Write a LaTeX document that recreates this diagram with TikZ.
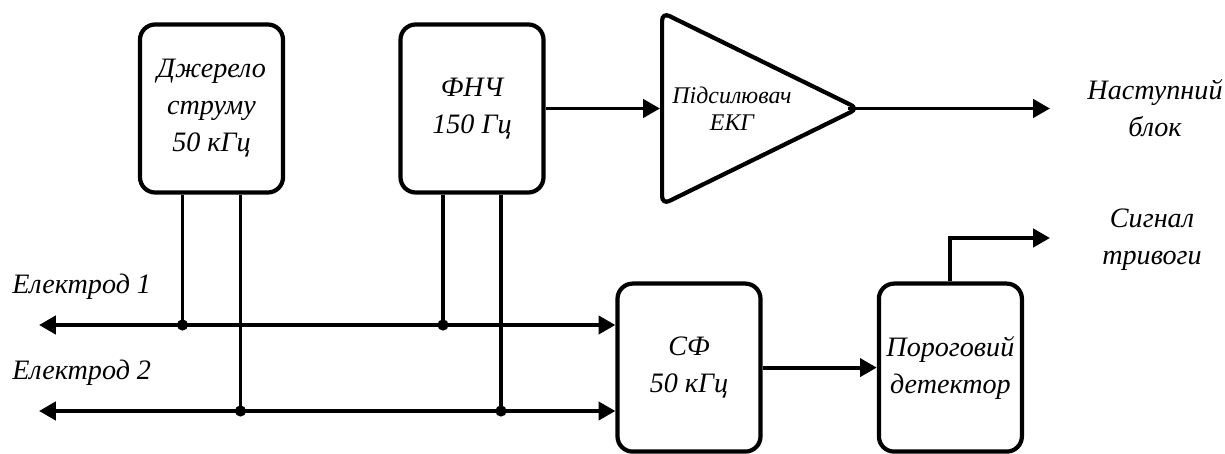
\documentclass[tikz,border=0pt]{standalone}
\usepackage{fontspec}
\setmainfont{Liberation Serif}
\usetikzlibrary{arrows.meta, shapes.geometric}

\tikzset{
  block/.style={draw, line width=3pt, rounded corners=0.38cm,
    minimum width=3.575cm, minimum height=4.2cm, align=center,
    font=\fontsize{20}{26.3}\selectfont\itshape},
  ampbox/.style={draw, line width=3pt, rounded corners=0.2cm,
    isosceles triangle, isosceles triangle stretches,
    minimum width=4.8cm, minimum height=4.9cm, inner sep=0pt},
  ampfont/.style={align=center, inner sep=0pt,
    font=\fontsize{17}{19.5}\selectfont\itshape},
  lbl/.style={align=center, inner sep=0pt,
    font=\fontsize{20}{26.3}\selectfont\itshape},
  wire/.style={line width=2.8pt},
  arr/.style={wire, -{Triangle[length=0.42cm, width=0.45cm]}},
  biarr/.style={wire, {Triangle[length=0.42cm, width=0.45cm]}-{Triangle[length=0.42cm, width=0.45cm]}}
}

\begin{document}
\begin{tikzpicture}
    \useasboundingbox (0, 0) rectangle (30.625, 11.35);

    % Blocks
    \node[block] (src) at (5.2875, 8.6375) {Джерело\\струму\\50 кГц};
    \node[block] (lpf) at (11.8, 8.6375) {ФНЧ\\150 Гц};
    \node[ampbox, anchor=west] (amp) at (16.5, 8.6375) {};
    \node[ampfont] (amptxt) at ([xshift=1.8cm]amp.west) {Підсилювач\\ЕКГ};
    \node[block] (bpf) at (17.225, 2.16) {СФ\\50 кГц};
    \node[block] (thr) at (23.76, 2.16) {Пороговий\\детектор};

    % Electrodes
    \coordinate (el1) at (0.975, 3.225);
    \coordinate (el2) at (0.975, 1.075);
    \node[lbl, anchor=west] (el1lbl) at (0.3, 4.175) {Електрод 1};
    \node[lbl, anchor=west] (el2lbl) at (0.3, 2.025) {Електрод 2};
    \draw[biarr] (el1) -- (el1 -| bpf.west);
    \draw[biarr] (el2) -- (el2 -| bpf.west);

    % Leads to the electrodes
    \coordinate (srca) at ([xshift=-0.725cm]src.south);
    \coordinate (srcb) at ([xshift=0.725cm]src.south);
    \coordinate (lpfa) at ([xshift=-0.725cm]lpf.south);
    \coordinate (lpfb) at ([xshift=0.725cm]lpf.south);
    \draw[wire] (srca) -- (srca |- el1);
    \draw[wire] (srcb) -- (srcb |- el2);
    \draw[wire] (lpfa) -- (lpfa |- el1);
    \draw[wire] (lpfb) -- (lpfb |- el2);
    \fill (srca |- el1) circle (0.14);
    \fill (srcb |- el2) circle (0.14);
    \fill (lpfa |- el1) circle (0.14);
    \fill (lpfb |- el2) circle (0.14);

    % Signal path
    \coordinate (nextin) at (26.25, 8.6375);
    \coordinate (alarmin) at (26.25, 5.4);
    \draw[arr] (lpf.east) -- (amp.west);
    \draw[arr, shorten <=-0.4cm] (amp.apex) -- (nextin);
    \draw[arr] (bpf.east) -- (thr.west);
    \draw[arr] (thr.north) -- (thr.north |- alarmin) -- (alarmin);

    % Outputs
    \node[lbl] (next) at (28.875, 8.65) {Наступний\\блок};
    \node[lbl] (alarm) at (28.8, 5.35) {Сигнал\\тривоги};
\end{tikzpicture}
\end{document}
